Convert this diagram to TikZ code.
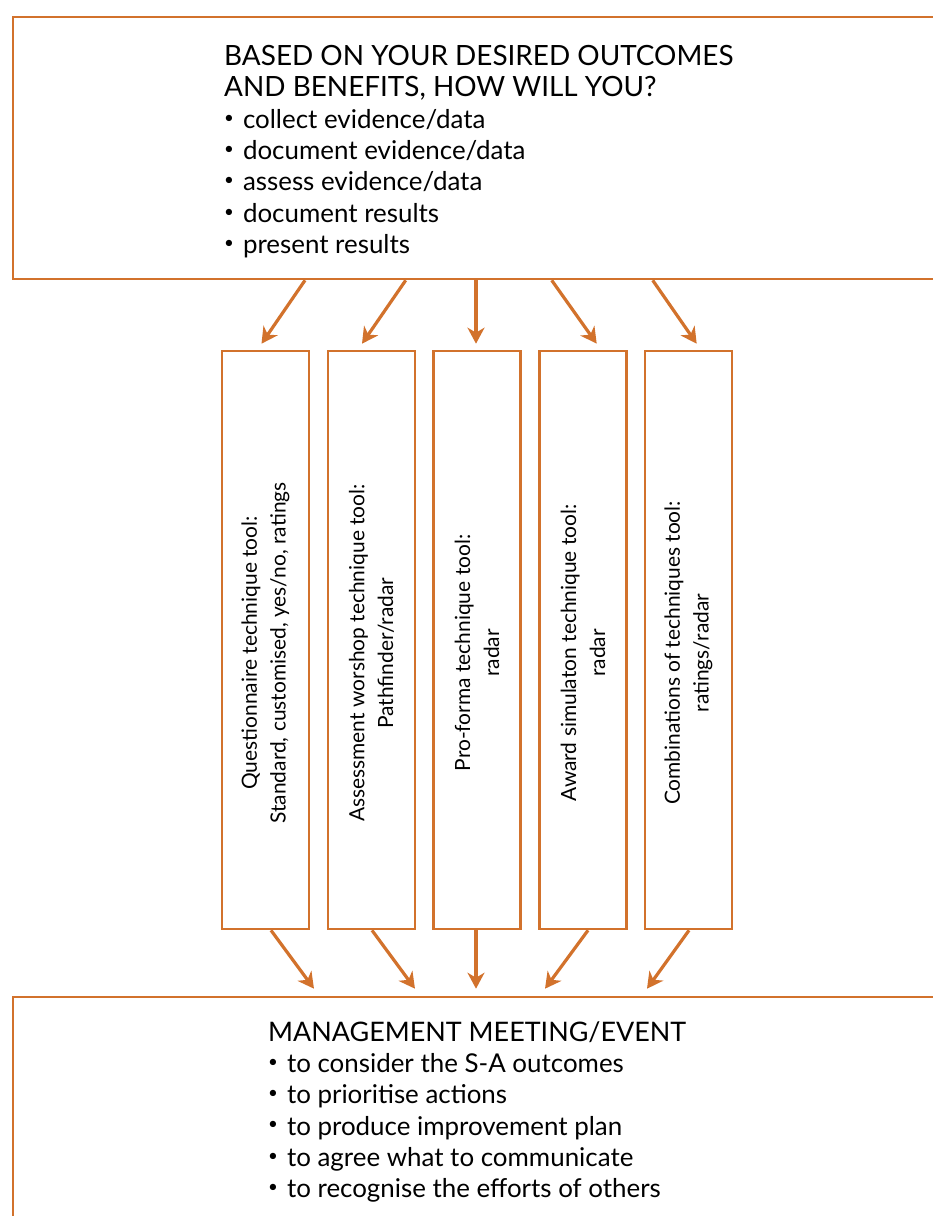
\documentclass[tikz,border=0pt]{standalone}
\usepackage{fontspec}
\setmainfont{Lato}
\usetikzlibrary{arrows.meta}
\definecolor{ochre}{RGB}{210,114,44}

\newcommand{\capline}[2]{{\fontsize{#1}{31.5}\selectfont #2}}
\newcommand{\dotitem}{\raisebox{0.2em}{\fontsize{17}{17}\selectfont •}\hspace{9bp}}

\tikzset{
  panel/.style={draw=ochre, line width=2.6bp, minimum width=932bp, minimum height=262bp, inner sep=0pt},
  toolbox/.style={draw=ochre, line width=2.6bp, minimum width=87bp, minimum height=578bp, inner sep=0pt},
  toollabel/.style={rotate=90, align=center, inner sep=0pt, font=\fontsize{21}{29}\selectfont},
  listtext/.style={anchor=north west, align=left, inner sep=0pt, font=\fontsize{26}{31.5}\selectfont},
  flow/.style={draw=ochre, line width=3.2bp, -{Stealth[length=16bp,width=17bp,inset=5bp]}}
}

\begin{document}
\begin{tikzpicture}[x=1bp,y=-1bp]
  \useasboundingbox (0,0) rectangle (933,1216);
  \clip (0,0) rectangle (933,1216);

  % the two wide panels
  \node[panel] (top) at (479,148) {};
  \node[panel] (meet) at (479,1128) {};

  \node[listtext] (ask) at (224,45) {\capline{28}{BASED ON YOUR DESIRED OUTCOMES}\\
    \capline{28}{AND BENEFITS, HOW WILL YOU?}\\
    \dotitem collect evidence/data\\
    \dotitem document evidence/data\\
    \dotitem assess evidence/data\\
    \dotitem document results\\
    \dotitem present results};

  \node[listtext] (agenda) at (268,1021) {\capline{27}{MANAGEMENT MEETING/EVENT}\\
    \dotitem to consider the S-A outcomes\\
    \dotitem to prioritise actions\\
    \dotitem to produce improvement plan\\
    \dotitem to agree what to communicate\\
    \dotitem to recognise the efforts of others};

  % the five tool boxes
  \foreach \n/\x/\a/\b in {
      1/265.5/{Questionnaire technique tool:}/{Standard, customised, yes/no, ratings},
      2/371.5/{Assessment worshop technique tool:}/{Pathfinder/radar},
      3/477/{Pro-forma technique tool:}/{radar},
      4/583/{Award simulaton technique tool:}/{radar},
      5/688.5/{Combinations of techniques tool:}/{ratings/radar}}{
    \node[toolbox] (t\n) at (\x,640) {};
    \node[toollabel] (l\n) at (\x,653) {\a\\\b};
  }

  % arrows in and out
  \foreach \n/\s/\e in {1/39.5/-4, 2/34.2/-9.5, 3/-1/-1, 4/-31.3/13.7, 5/-35.8/8.2}
    \draw[flow] ([xshift=\s bp]top.south -| t\n.north) -- ([xshift=\e bp,yshift=6bp]t\n.north);
  \foreach \n/\s/\e in {1/5.5/48.5, 2/0.5/43.5, 3/-1/-1, 4/5/-38, 5/0.5/-41.5}
    \draw[flow] ([xshift=\s bp]t\n.south) -- ([xshift=\e bp,yshift=7bp]meet.north -| t\n.south);
\end{tikzpicture}
\end{document}
